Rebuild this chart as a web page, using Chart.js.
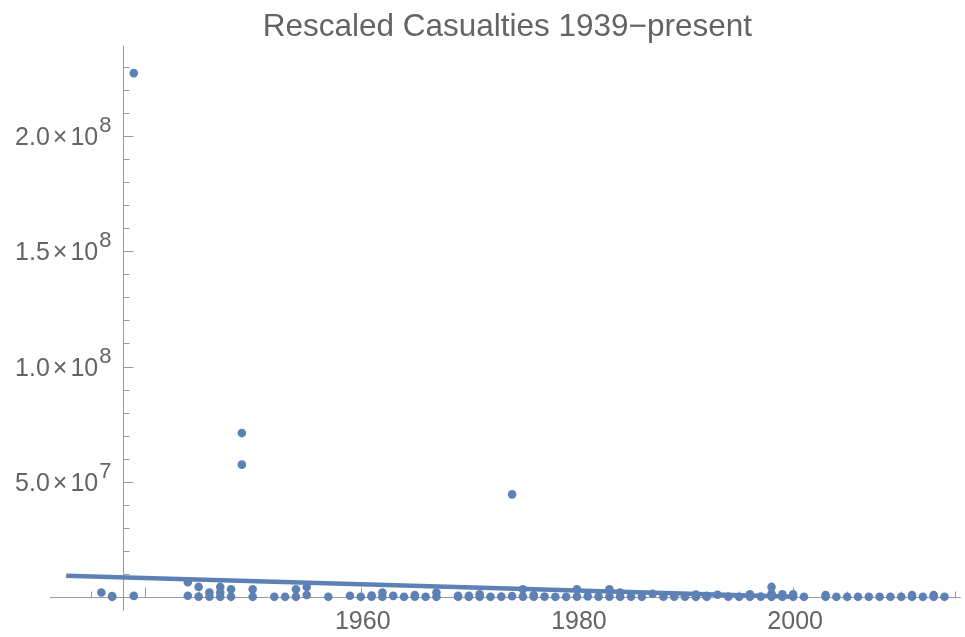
<!DOCTYPE html>
<html>
<head>
<meta charset="utf-8">
<title>Rescaled Casualties 1939−present</title>
<script src="https://cdn.jsdelivr.net/npm/chart.js@4.4.1/dist/chart.umd.min.js"></script>
<style>
  html, body { margin: 0; padding: 0; background: #ffffff; }
  #wrap { width: 965px; height: 637px; }
</style>
</head>
<body>
<div id="wrap"><canvas id="chart" width="965" height="637"></canvas></div>
<script>
// Conflict casualties by start year (values in millions)
const years = [
  1936, 1937, 1937, 1939, 1939, 1944, 1944, 1945, 1945, 1946,
  1946, 1947, 1947, 1947, 1948, 1948, 1949, 1949, 1950, 1950,
  1952, 1953, 1954, 1954, 1955, 1955, 1957, 1959, 1960, 1961,
  1961, 1962, 1962, 1963, 1964, 1965, 1965, 1966, 1967, 1967,
  1969, 1969, 1970, 1970, 1971, 1971, 1972, 1973, 1974, 1974,
  1975, 1975, 1976, 1976, 1977, 1978, 1979, 1980, 1980, 1981,
  1982, 1983, 1983, 1984, 1984, 1985, 1986, 1987, 1988, 1989,
  1990, 1991, 1991, 1992, 1992, 1993, 1994, 1995, 1996, 1996,
  1997, 1998, 1998, 1998, 1999, 1999, 2000, 2000, 2001, 2003,
  2003, 2004, 2005, 2006, 2007, 2008, 2009, 2010, 2011, 2011,
  2012, 2013, 2013, 2014
];
const casualties = [
  1.9, 0, 0.3, 0.4, 227.4, 6.4, 0.5, 4.3, 0.1, 1.9,
  0.1, 4.3, 1.9, 0, 3.3, 0, 71.1, 57.4, 3.3, 0,
  0, 0, 3.3, 0, 4.3, 0.8, 0, 0.5, 0, 0.1,
  0.6, 1.9, 0, 0.4, 0, 0.1, 0.8, 0, 1.9, 0,
  0.4, 0, 0.4, 0, 1.1, 0, 0, 0.1, 0.3, 44.5,
  3.3, 0.1, 0.1, 0.8, 0.1, 0, 0, 3.3, 0.1, 0.2,
  0.1, 3.3, 0.1, 1.9, 0, 0.1, 0, 1.3, 0.1, 0.1,
  0.1, 1.0, 0, 0.4, 0, 0.9, 0.1, 0, 1.1, 0,
  0.1, 4.3, 1.4, 0, 1.1, 0, 1.1, 0, 0, 0.8,
  0, 0, 0, 0, 0, 0, 0, 0, 0.8, 0,
  0, 0.8, 0, 0
];

// linear trend (millions)
const fitYears = [1932.75, 2000];
const fitValues = [9.2, 0];

// axis ticks
const xMajorTicks = [1940, 1960, 1980, 2000];
const xTickLabels = ['', '1960', '1980', '2000'];
const yMajorTicks = [5e7, 1e8, 1.5e8, 2e8];
const yTickMantissa = ['5.0', '1.0', '1.5', '2.0'];
const yTickExponent = ['7', '8', '8', '8'];

const blue = '#5e81b5';
const axisColor = '#9a9a9a';
const textColor = '#646464';
const fontFamily = '"Liberation Sans", Arial, sans-serif';

const xMin = 1931.25, xMax = 2015.5;
const yMin = -7.5e6, yMax = 2.393e8;
const axisOriginYear = 1938;
const yAxisBottom = -6e6;

// Mathematica-style axes: crossing lines with ticks pointing inward
const axesPlugin = {
  id: 'mmaAxes',
  beforeDatasetsDraw(chart) {
    const ctx = chart.ctx;
    const xs = chart.scales.x, ys = chart.scales.y;
    const ax = Math.round(xs.getPixelForValue(axisOriginYear)) + 0.5;
    const ay = Math.round(ys.getPixelForValue(0)) + 0.5;

    ctx.save();
    ctx.strokeStyle = axisColor;
    ctx.lineWidth = 1;

    // axis lines
    ctx.beginPath();
    ctx.moveTo(xs.left, ay);
    ctx.lineTo(xs.right, ay);
    ctx.moveTo(ax, ys.top);
    ctx.lineTo(ax, ys.getPixelForValue(yAxisBottom));
    ctx.stroke();

    // x ticks
    ctx.beginPath();
    for (let yr = 1935; yr <= xMax; yr += 5) {
      const len = xMajorTicks.includes(yr) ? 10 : 6;
      const px = Math.round(xs.getPixelForValue(yr)) + 0.5;
      ctx.moveTo(px, ay);
      ctx.lineTo(px, ay - len);
    }
    // y ticks
    for (let v = 1e7; v <= yMax; v += 1e7) {
      const major = yMajorTicks.some(t => Math.abs(t - v) < 1);
      const len = major ? 10 : 6;
      const py = Math.round(ys.getPixelForValue(v)) + 0.5;
      ctx.moveTo(ax, py);
      ctx.lineTo(ax + len, py);
    }
    ctx.stroke();

    // x tick labels
    ctx.fillStyle = textColor;
    ctx.font = '25px ' + fontFamily;
    ctx.textAlign = 'center';
    ctx.textBaseline = 'alphabetic';
    xMajorTicks.forEach((t, i) => {
      if (!xTickLabels[i]) return;
      ctx.fillText(xTickLabels[i], xs.getPixelForValue(t) + 2, ay + 31);
    });

    // y tick labels, scientific notation with superscript exponent
    ctx.textAlign = 'left';
    const right = ax - 12;
    yMajorTicks.forEach((t, i) => {
      const py = ys.getPixelForValue(t);
      const base = py + 9;
      ctx.font = '25px ' + fontFamily;
      const wm = ctx.measureText(yTickMantissa[i]).width;
      const wx = ctx.measureText('\u00d7').width;
      const wt = ctx.measureText('10').width;
      ctx.font = '22px ' + fontFamily;
      const we = ctx.measureText(yTickExponent[i]).width;
      const gap = 3;
      let x = right - (wm + gap + wx + gap + wt + we + 1);
      ctx.font = '25px ' + fontFamily;
      ctx.fillText(yTickMantissa[i], x, base);
      x += wm + gap;
      ctx.fillText('\u00d7', x, base);
      x += wx + gap;
      ctx.fillText('10', x, base);
      x += wt + 1;
      ctx.font = '22px ' + fontFamily;
      ctx.fillText(yTickExponent[i], x, base - 13);
    });

    // title
    ctx.font = '31.5px ' + fontFamily;
    ctx.textAlign = 'center';
    ctx.fillText('Rescaled Casualties 1939\u2212present', (xs.left + xs.right) / 2 + 2, 36);
    ctx.restore();
  }
};

const points = years.map((yr, i) => ({ x: yr, y: casualties[i] * 1e6 }));
const trend = fitYears.map((yr, i) => ({ x: yr, y: fitValues[i] * 1e6 }));

new Chart(document.getElementById('chart'), {
  type: 'scatter',
  data: {
    datasets: [
      {
        label: 'Casualties',
        data: points,
        backgroundColor: blue,
        borderWidth: 0,
        pointRadius: 4.3,
        pointHoverRadius: 4.3,
        clip: false
      },
      {
        type: 'line',
        label: 'Trend',
        data: trend,
        borderColor: blue,
        borderWidth: 4.5,
        pointRadius: 0,
        fill: false,
        clip: false
      }
    ]
  },
  options: {
    responsive: false,
    devicePixelRatio: 1,
    animation: false,
    layout: { padding: { left: 50, right: 0, top: 45.7, bottom: 22.9 } },
    plugins: {
      legend: { display: false },
      tooltip: { enabled: false },
      title: { display: false }
    },
    scales: {
      x: { type: 'linear', min: xMin, max: xMax, display: false },
      y: { type: 'linear', min: yMin, max: yMax, display: false }
    }
  },
  plugins: [axesPlugin]
});
</script>
</body>
</html>
